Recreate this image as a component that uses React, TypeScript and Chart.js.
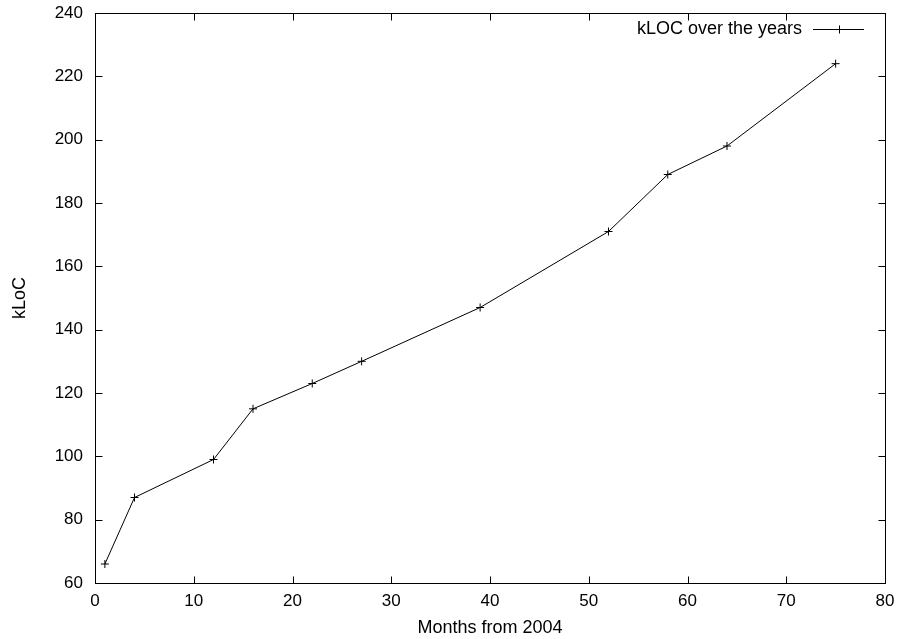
import React, { useEffect, useRef } from "react";
import { Chart, registerables } from "chart.js";

Chart.register(...registerables);

const months = [1, 4, 12, 16, 22, 27, 39, 52, 58, 64, 75];
const kloc = [66, 87, 99, 115, 123, 130, 147, 171, 189, 198, 224];
const seriesLabel = "kLOC over the years";
const xTitle = "Months from 2004";
const yTitle = "kLoC";
const xMin = 0;
const xMax = 80;
const xStep = 10;
const yMin = 60;
const yMax = 240;
const yStep = 20;

const FONT = '"Liberation Sans", Arial, Helvetica, sans-serif';
const TICK_SIZE = 17;
const TEXT_SIZE = 18;

const framePlugin = {
  id: "gnuplotFrame",
  afterDatasetsDraw(chart: any) {
    const { ctx, chartArea } = chart;
    const x = chart.scales.x;
    const y = chart.scales.y;
    const L = Math.round(chartArea.left) + 0.5;
    const R = Math.round(chartArea.right) + 0.5;
    const T = Math.round(chartArea.top) + 0.5;
    const B = Math.round(chartArea.bottom) + 0.5;
    const tl = 7;
    ctx.save();
    ctx.strokeStyle = "#000";
    ctx.lineWidth = 1;
    ctx.beginPath();
    for (const t of x.ticks) {
      const px = Math.round(x.getPixelForValue(t.value)) + 0.5;
      ctx.moveTo(px, B);
      ctx.lineTo(px, B - tl);
      ctx.moveTo(px, T);
      ctx.lineTo(px, T + tl);
    }
    for (const t of y.ticks) {
      const py = Math.round(y.getPixelForValue(t.value)) + 0.5;
      ctx.moveTo(L, py);
      ctx.lineTo(L + tl, py);
      ctx.moveTo(R, py);
      ctx.lineTo(R - tl, py);
    }
    ctx.stroke();
    ctx.strokeRect(L, T, R - L, B - T);
    ctx.restore();
  },
  afterDraw(chart: any) {
    const { ctx, chartArea } = chart;
    const ds = chart.data.datasets[0];
    const right = Math.round(chartArea.right);
    const cy = Math.round(chartArea.top) + 16.5;
    const lineStart = right - 72;
    const lineEnd = right - 21;
    ctx.save();
    ctx.fillStyle = "#000";
    ctx.font = `${TEXT_SIZE}px ${FONT}`;
    ctx.textAlign = "right";
    ctx.textBaseline = "middle";
    ctx.fillText(ds.label, lineStart - 11, cy);
    ctx.strokeStyle = "#000";
    ctx.lineWidth = 1;
    ctx.beginPath();
    ctx.moveTo(lineStart, cy);
    ctx.lineTo(lineEnd, cy);
    const mx = Math.round((lineStart + lineEnd) / 2) + 0.5;
    ctx.moveTo(mx - 4, cy);
    ctx.lineTo(mx + 4, cy);
    ctx.moveTo(mx, cy - 4);
    ctx.lineTo(mx, cy + 4);
    ctx.stroke();
    ctx.restore();
  },
};

export default function App() {
  const canvasRef = useRef<HTMLCanvasElement | null>(null);

  useEffect(() => {
    if (!canvasRef.current) return;
    const points = months.map((m, i) => ({ x: m, y: kloc[i] }));
    const chart = new Chart(canvasRef.current, {
      type: "line",
      data: {
        datasets: [
          {
            label: seriesLabel,
            data: points,
            borderColor: "#000",
            backgroundColor: "#000",
            borderWidth: 1,
            tension: 0,
            pointStyle: "cross",
            pointRadius: 4,
            pointBorderWidth: 1,
            pointBorderColor: "#000",
            fill: false,
          },
        ],
      },
      options: {
        animation: false,
        responsive: true,
        maintainAspectRatio: false,
        layout: { padding: { top: 13, right: 16, left: 0, bottom: 0 } },
        plugins: {
          legend: { display: false },
          tooltip: { enabled: false },
        },
        scales: {
          x: {
            type: "linear",
            min: xMin,
            max: xMax,
            border: { display: false },
            grid: { display: false, drawTicks: false },
            ticks: {
              stepSize: xStep,
              color: "#000",
              padding: 8,
              maxRotation: 0,
              font: { family: FONT, size: TICK_SIZE },
            },
            title: {
              display: true,
              text: xTitle,
              color: "#000",
              font: { family: FONT, size: TEXT_SIZE },
              padding: { top: 0, bottom: 0 },
            },
            afterFit(scale: any) {
              scale.height = 56;
              scale.paddingLeft = 0;
              scale.paddingRight = 0;
            },
          },
          y: {
            type: "linear",
            min: yMin,
            max: yMax,
            border: { display: false },
            grid: { display: false, drawTicks: false },
            ticks: {
              stepSize: yStep,
              color: "#000",
              padding: 12,
              font: { family: FONT, size: TICK_SIZE },
            },
            title: {
              display: true,
              text: yTitle,
              color: "#000",
              font: { family: FONT, size: TEXT_SIZE },
              padding: { top: 9, bottom: 0 },
            },
            afterFit(scale: any) {
              scale.width = 95;
              scale.paddingTop = 0;
              scale.paddingBottom = 0;
            },
          },
        },
      },
      plugins: [framePlugin],
    });
    return () => chart.destroy();
  }, []);

  return (
    <div style={{ position: "absolute", left: 0, top: 0, width: 901, height: 639, background: "#fff" }}>
      <canvas ref={canvasRef} style={{ display: "block" }} />
    </div>
  );
}
